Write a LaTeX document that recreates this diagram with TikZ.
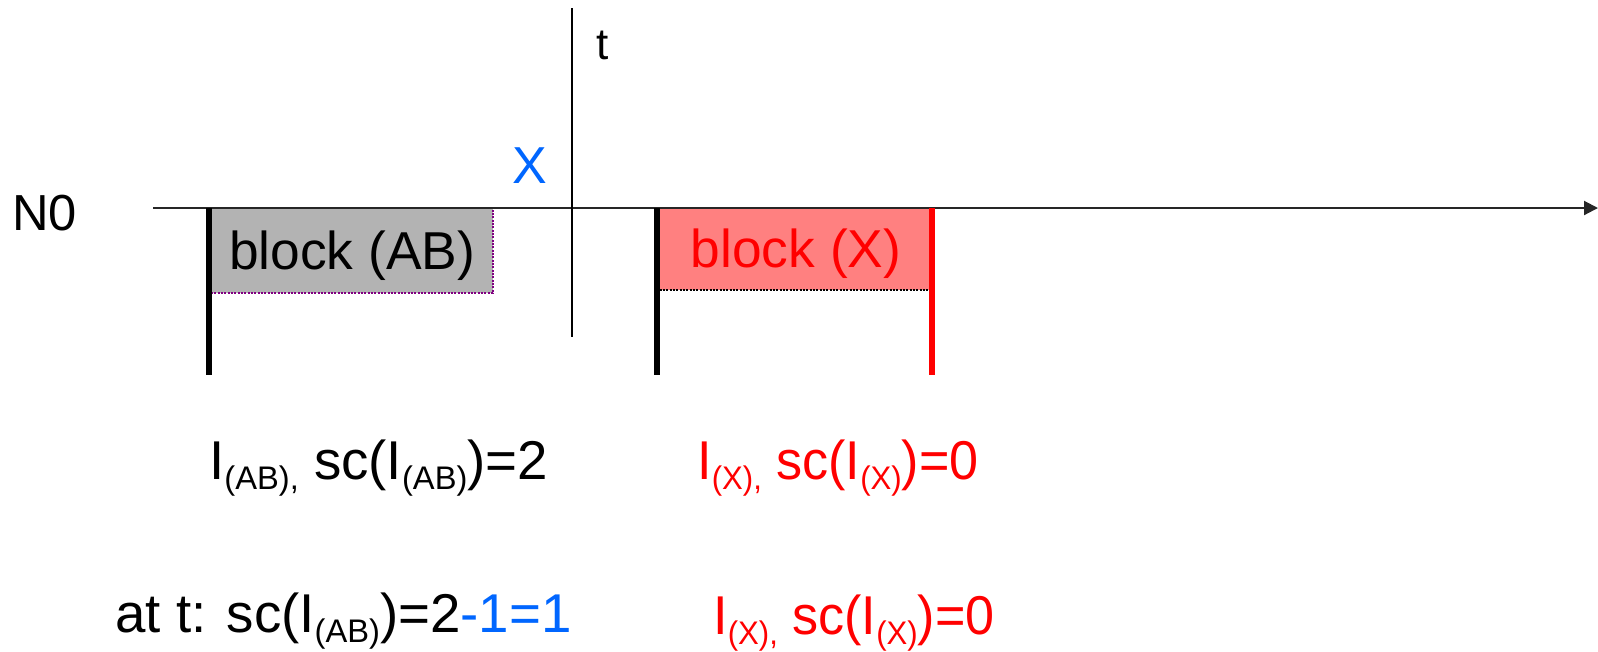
\documentclass[tikz,border=0pt]{standalone}
\usepackage{fontspec}
\usepackage{graphicx}
\setmainfont{Liberation Sans}
\usetikzlibrary{arrows.meta}
\definecolor{xblue}{RGB}{0,102,255}
\definecolor{xred}{RGB}{255,0,0}
\definecolor{xpink}{RGB}{255,128,128}
\definecolor{xgray}{RGB}{179,179,179}
\definecolor{xpurple}{RGB}{128,0,128}
\newcommand{\sbx}[1]{\raisebox{-7.5pt}{\fontsize{24.5}{24.5}\selectfont #1}}
\newcommand{\narrowtxt}[1]{\scalebox{0.953}[1]{#1}}
\tikzset{
  bigtxt/.style={font=\fontsize{41}{41}\selectfont, inner sep=0pt},
  blktxt/.style={font=\fontsize{40}{40}\selectfont, inner sep=0pt},
  midtxt/.style={font=\fontsize{33}{33}\selectfont, inner sep=0pt},
  bar/.style={line width=4.5pt},
}
\begin{document}
\begin{tikzpicture}[x=0.75pt,y=-0.75pt]
\useasboundingbox (0,0) rectangle (1598,651);
% blocks
\node[fill=xgray, draw=xpurple, densely dotted, line width=1.5pt, minimum width=211.5pt, minimum height=63.75pt, inner sep=0pt] (ab) at (352,250.5) {};
\node[blktxt, anchor=base] (abt) at (352,269) {block (AB)};
\node[fill=xpink, minimum width=202.5pt, minimum height=61.5pt, inner sep=0pt] (xb) at (795,249) {};
\draw[densely dotted, line width=1.5pt] (xb.north west) -- (xb.north east);
\draw[densely dotted, line width=1.5pt] (xb.south west) -- (xb.south east);
\node[blktxt, anchor=base, text=xred] (xbt) at (796,267) {block (X)};
% axis
\coordinate (a0) at (153,208);
\coordinate (a1) at (1598,208);
\draw[line width=1.5pt, color=black!85, -{Triangle[length=10.5pt,width=10.5pt]}] (a0) -- (a1);
% time line
\coordinate (t0) at (572,8);
\coordinate (t1) at (572,337);
\draw[line width=1.8pt] (t0) -- (t1);
\node[midtxt, anchor=base] (tl) at (603,59) {t};
\node[font=\fontsize{39}{39}\selectfont, inner sep=0pt, anchor=base, text=xblue] (xl) at (530,183) {X};
\node[font=\fontsize{38}{38}\selectfont, inner sep=0pt, anchor=base west] (n0) at (12,230) {N0};
% bars
\coordinate (b1a) at (209,208); \coordinate (b1b) at (209,375);
\coordinate (b2a) at (657,208); \coordinate (b2b) at (657,375);
\coordinate (b3a) at (932,208); \coordinate (b3b) at (932,375);
\draw[bar] (b1a) -- (b1b);
\draw[bar] (b2a) -- (b2b);
\draw[bar, xred] (b3a) -- (b3b);
% labels
\node[bigtxt, anchor=base west] (r1a) at (209,479) {I\sbx{(AB),} sc(I\sbx{(AB)})=2};
\node[bigtxt, anchor=base west, text=xred] (r1b) at (697,479) {\narrowtxt{I\sbx{(X),} sc(I\sbx{(X)})=0}};
\node[bigtxt, anchor=base west] (r2a) at (115,632) {at t: sc(I\sbx{(AB)})=2\textcolor{xblue}{-1=1}};
\node[bigtxt, anchor=base west, text=xred] (r2b) at (713,634) {\narrowtxt{I\sbx{(X),} sc(I\sbx{(X)})=0}};
\end{tikzpicture}
\end{document}
